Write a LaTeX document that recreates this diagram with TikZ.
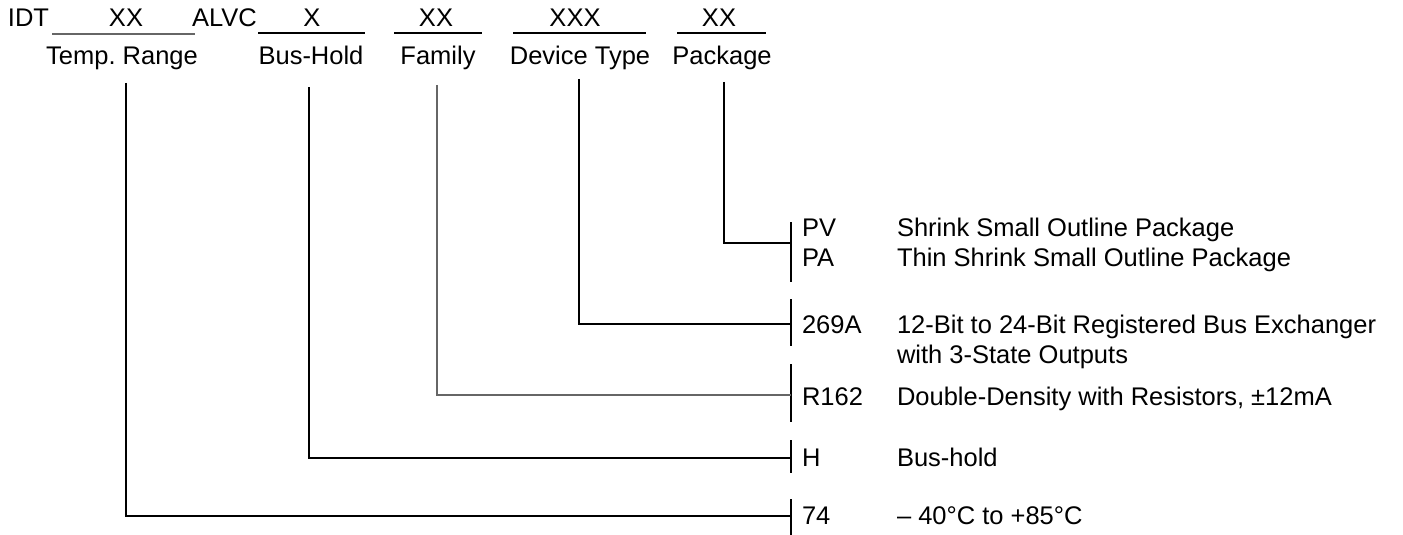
\documentclass[tikz,border=0pt]{standalone}
\usepackage{fontspec}
\setmainfont{Liberation Sans}
\frenchspacing
\begin{document}
\begin{tikzpicture}[x=1pt,y=-1pt,
  txt/.style={inner sep=0pt,outer sep=0pt,font=\fontsize{25.5}{30}\selectfont},
  code/.style={txt,anchor=base west},
  lbl/.style={txt,anchor=base},
  conn/.style={line width=1.2pt,black},
  thickconn/.style={line width=1.8pt,black},
  uline/.style={line width=1.6pt,black},
  gline/.style={line width=1.1pt,black!60}]
\useasboundingbox (0,0) rectangle (1403,535);
% top row
\node[code] (idt) at (8,27) {IDT};
\node[lbl] (x1) at (126,27) {XX};
\node[code] (alvc) at (192,27) {ALVC};
\node[lbl] (x2) at (312,27) {X};
\node[lbl] (x3) at (436,27) {XX};
\node[lbl] (x4) at (575,27) {XXX};
\node[lbl] (x5) at (719,27) {XX};
\coordinate (u1a) at (52,34); \coordinate (u1b) at (195,34);
\coordinate (u2a) at (258,33); \coordinate (u2b) at (365,33);
\coordinate (u3a) at (394,33); \coordinate (u3b) at (482,33);
\coordinate (u4a) at (513,33); \coordinate (u4b) at (646,33);
\coordinate (u5a) at (677,33); \coordinate (u5b) at (766,33);
\draw[gline] (u1a) -- (u1b);
\draw[uline] (u2a) -- (u2b);
\draw[uline] (u3a) -- (u3b);
\draw[uline] (u4a) -- (u4b);
\draw[conn] (u5a) -- (u5b);
% labels
\node[lbl] (l1) at (122,64) {Temp. Range};
\node[lbl] (l2) at (311,64) {Bus-Hold};
\node[lbl] (l3) at (438,64) {Family};
\node[lbl] (l4) at (580,64) {Device Type};
\node[lbl] (l5) at (722,64) {Package};
% start points of leaders
\coordinate (s1) at (126,83);
\coordinate (s2) at (309,87);
\coordinate (s3) at (437,85);
\coordinate (s4) at (579,79);
\coordinate (s5) at (724,82);
% brackets
\coordinate (b5t) at (791,222); \coordinate (b5b) at (791,282); \coordinate (b5) at (791,243);
\coordinate (b4t) at (791,299); \coordinate (b4b) at (791,346); \coordinate (b4) at (791,324);
\coordinate (b3t) at (791,364); \coordinate (b3b) at (791,422); \coordinate (b3) at (791,395);
\coordinate (b2t) at (791,440); \coordinate (b2b) at (791,473); \coordinate (b2) at (791,458);
\coordinate (b1t) at (791,499); \coordinate (b1b) at (791,535); \coordinate (b1) at (791,516);
\draw[conn] (b5t) -- (b5b);
\draw[thickconn] (b4t) -- (b4b);
\draw[conn] (b3t) -- (b3b);
\draw[conn] (b2t) -- (b2b);
\draw[thickconn] (b1t) -- (b1b);
\draw[conn] (s5) |- (b5);
\draw[conn] (s4) |- (b4);
\draw[gline] (s3) |- (b3);
\draw[thickconn] (s2) |- (b2);
\draw[conn] (s1) |- (b1);
% codes and descriptions
\node[code] (pv) at (802,236) {PV};
\node[code] (pvd) at (897,236) {Shrink Small Outline Package};
\node[code] (pa) at (802,266) {PA};
\node[code] (pad) at (897,266) {Thin Shrink Small Outline Package};
\node[code] (c4) at (802,333) {269A};
\node[code] (c4d) at (897,333) {12-Bit to 24-Bit Registered Bus Exchanger};
\node[code] (c4e) at (897,363) {with 3-State Outputs};
\node[code] (c3) at (802,405) {R162};
\node[code] (c3d) at (897,405) {Double-Density with Resistors, ±12mA};
\node[code] (c2) at (802,466) {H};
\node[code] (c2d) at (897,466) {Bus-hold};
\node[code] (c1) at (802,524) {74};
\node[code] (c1d) at (897,524) {– 40°C to +85°C};
\end{tikzpicture}
\end{document}
